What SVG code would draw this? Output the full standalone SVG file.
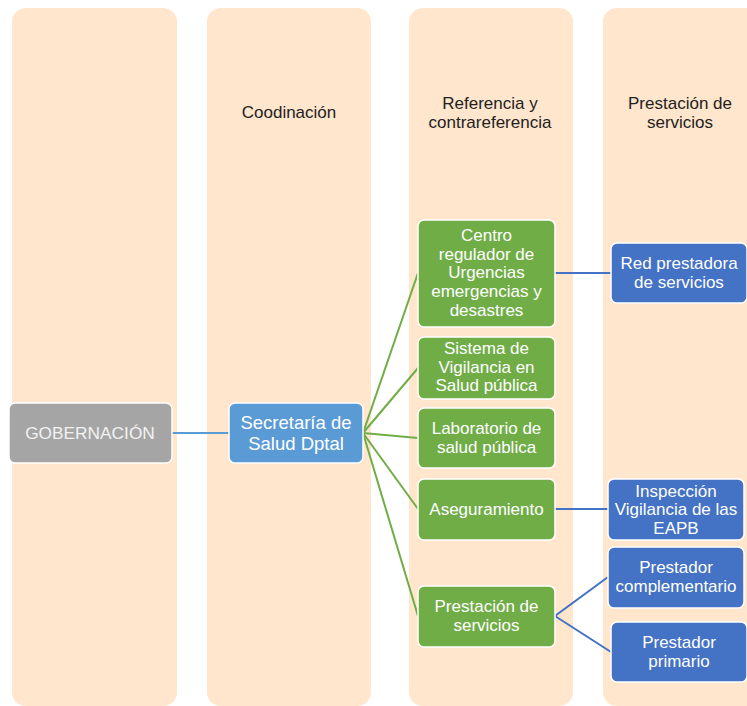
<svg xmlns="http://www.w3.org/2000/svg" width="747" height="706" viewBox="0 0 747 706">
<style>
.col{fill:#FFE6CC;}
.hdr{font-family:"Liberation Sans",Arial,sans-serif;font-size:17px;fill:#222;text-anchor:middle;}
.box{stroke:#fff;stroke-width:1.5;}
.g{fill:#70AD47;}
.b{fill:#4472C4;}
.lb{fill:#5B9BD5;}
.gr{fill:#A5A5A5;}
.t{font-family:"Liberation Sans",Arial,sans-serif;font-size:17px;fill:#fff;text-anchor:middle;}
.gl{stroke:#70AD47;stroke-width:2;fill:none;}
.bl{stroke:#4472C4;stroke-width:2;fill:none;}
.ll{stroke:#5B9BD5;stroke-width:2;fill:none;}
</style>
<rect width="747" height="706" fill="#fff"/>
<g id="columns">
<rect class="col" x="12" y="8" width="165" height="698" rx="14"/>
<rect class="col" x="207" y="8" width="164" height="698" rx="14"/>
<rect class="col" x="409" y="8" width="164" height="698" rx="14"/>
<rect class="col" x="603" y="8" width="164" height="698" rx="14"/>
<text class="hdr" x="289" y="118">Coodinación</text>
<text class="hdr" x="490" y="109">Referencia y</text>
<text class="hdr" x="490" y="128">contrareferencia</text>
<text class="hdr" x="680" y="109">Prestación de</text>
<text class="hdr" x="680" y="128">servicios</text>
</g>
<g id="connectors">
<line class="ll" x1="172" y1="433" x2="229" y2="433"/>
<line class="gl" x1="363" y1="433" x2="418" y2="273"/>
<line class="gl" x1="363" y1="433" x2="418" y2="368"/>
<line class="gl" x1="363" y1="433" x2="418" y2="438"/>
<line class="gl" x1="363" y1="433" x2="418" y2="509"/>
<line class="gl" x1="363" y1="433" x2="418" y2="616"/>
<line class="bl" x1="555" y1="273" x2="611" y2="273"/>
<line class="bl" x1="555" y1="509" x2="608" y2="509"/>
<polyline class="bl" points="608,577 555,616 611,652"/>
</g>
<g id="gobernacion">
<rect class="box gr" x="9" y="403" width="163" height="60" rx="6"/>
<text class="t" x="90" y="439" style="font-size:17.3px;fill:#F2F2F2">GOBERNACIÓN</text>
</g>
<g id="secretaria">
<rect class="box lb" x="229" y="403" width="134" height="60" rx="6"/>
<text class="t" x="296" y="429" style="font-size:18.5px">Secretaría de</text>
<text class="t" x="296" y="450" style="font-size:18.5px">Salud Dptal</text>
</g>
<g id="centro">
<rect class="box g" x="418" y="220" width="137" height="107" rx="6"/>
<text class="t" x="486.5" y="241">Centro</text>
<text class="t" x="486.5" y="260">regulador de</text>
<text class="t" x="486.5" y="278">Urgencias</text>
<text class="t" x="486.5" y="297">emergencias y</text>
<text class="t" x="486.5" y="316">desastres</text>
</g>
<g id="sistema">
<rect class="box g" x="418" y="337" width="137" height="62" rx="6"/>
<text class="t" x="486.5" y="354">Sistema de</text>
<text class="t" x="486.5" y="373">Vigilancia en</text>
<text class="t" x="486.5" y="391">Salud pública</text>
</g>
<g id="laboratorio">
<rect class="box g" x="418" y="408" width="137" height="60" rx="6"/>
<text class="t" x="486.5" y="434">Laboratorio de</text>
<text class="t" x="486.5" y="453">salud pública</text>
</g>
<g id="aseguramiento">
<rect class="box g" x="418" y="479" width="137" height="61" rx="6"/>
<text class="t" x="486.5" y="515">Aseguramiento</text>
</g>
<g id="prestacion">
<rect class="box g" x="418" y="586" width="137" height="61" rx="6"/>
<text class="t" x="486.5" y="612">Prestación de</text>
<text class="t" x="486.5" y="631">servicios</text>
</g>
<g id="red">
<rect class="box b" x="611" y="243" width="136" height="60" rx="6"/>
<text class="t" x="679" y="269">Red prestadora</text>
<text class="t" x="679" y="288">de servicios</text>
</g>
<g id="inspeccion">
<rect class="box b" x="608" y="479" width="136" height="61" rx="6"/>
<text class="t" x="676" y="497">Inspección</text>
<text class="t" x="676" y="515">Vigilancia de las</text>
<text class="t" x="676" y="534">EAPB</text>
</g>
<g id="complementario">
<rect class="box b" x="608" y="547" width="136" height="61" rx="6"/>
<text class="t" x="676" y="573">Prestador</text>
<text class="t" x="676" y="592">complementario</text>
</g>
<g id="primario">
<rect class="box b" x="611" y="622" width="136" height="60" rx="6"/>
<text class="t" x="679" y="648">Prestador</text>
<text class="t" x="679" y="667">primario</text>
</g>
</svg>
